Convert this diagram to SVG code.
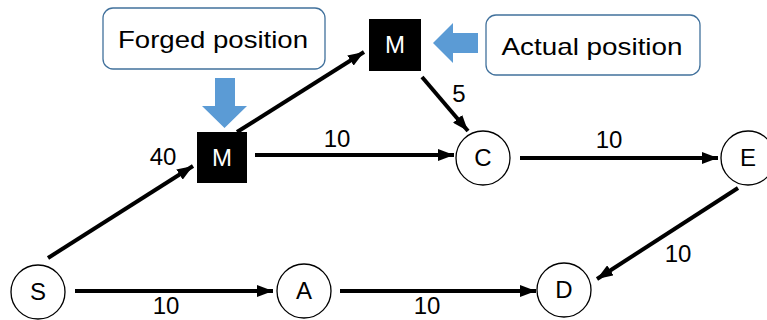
<svg xmlns="http://www.w3.org/2000/svg" width="767" height="320" viewBox="0 0 767 320">
<defs>
<marker id="ah" markerWidth="16" markerHeight="12" refX="16" refY="6" orient="auto" markerUnits="userSpaceOnUse">
<path d="M0,0 L16,6 L0,12 Z" fill="#000"/>
</marker>
<style>
.lbl{font-family:"Liberation Sans",Arial,sans-serif;font-size:24px;fill:#000}
.node{fill:#fff;stroke:#000;stroke-width:1.3}
.mbox{fill:#000}
.mtxt{font-family:"Liberation Sans",Arial,sans-serif;font-size:24px;fill:#fff;text-anchor:middle}
.ntxt{font-family:"Liberation Sans",Arial,sans-serif;font-size:24px;fill:#000;text-anchor:middle}
.call{fill:#fff;stroke:#41719c;stroke-width:1.3}
.ctxt{font-family:"Liberation Sans",Arial,sans-serif;font-size:24px;fill:#000;text-anchor:middle}
.blue{fill:#5b9bd5}
.edge{stroke:#000;stroke-width:4;fill:none;marker-end:url(#ah)}
</style>
</defs>
<rect width="767" height="320" fill="#fff"/>
<g id="forged-callout">
<rect class="call" x="103" y="8" width="222" height="61" rx="10"/>
<text class="ctxt" x="213" y="48" textLength="190" lengthAdjust="spacingAndGlyphs">Forged position</text>
<path class="blue" d="M215,78 H235 V106 H247 L224.5,128 L202,106 H215 Z"/>
</g>
<g id="actual-callout">
<rect class="call" x="486" y="15" width="214" height="60" rx="10"/>
<text class="ctxt" x="592" y="55" textLength="181" lengthAdjust="spacingAndGlyphs">Actual position</text>
<path class="blue" d="M478,33 V53 H453 V63 L433,43 L453,23 V33 Z"/>
</g>
<g id="connectors">
<line class="edge" x1="48" y1="258" x2="193" y2="166"/>
<line class="edge" x1="237" y1="132" x2="364" y2="52"/>
<line class="edge" x1="255" y1="155" x2="454" y2="155"/>
<line class="edge" x1="422" y1="77" x2="468" y2="131"/>
<line class="edge" x1="520" y1="158" x2="718" y2="158"/>
<line class="edge" x1="738" y1="188" x2="597" y2="279"/>
<line class="edge" x1="75" y1="291" x2="273" y2="291"/>
<line class="edge" x1="340" y1="291" x2="536" y2="291"/>
<text class="lbl" x="163" y="165" text-anchor="middle">40</text>
<text class="lbl" x="337" y="147" text-anchor="middle">10</text>
<text class="lbl" x="459" y="102" text-anchor="middle">5</text>
<text class="lbl" x="609" y="148" text-anchor="middle">10</text>
<text class="lbl" x="678" y="262" text-anchor="middle">10</text>
<text class="lbl" x="166" y="314" text-anchor="middle">10</text>
<text class="lbl" x="427" y="314" text-anchor="middle">10</text>
</g>
<g id="node-M-forged">
<rect class="mbox" x="197" y="132" width="50" height="51"/>
<text class="mtxt" x="222" y="166">M</text>
</g>
<g id="node-M-actual">
<rect class="mbox" x="369" y="19" width="52" height="52"/>
<text class="mtxt" x="395" y="53">M</text>
</g>
<g id="node-C">
<circle class="node" cx="483" cy="158" r="27"/>
<text class="ntxt" x="483" y="166">C</text>
</g>
<g id="node-E">
<circle class="node" cx="748" cy="158" r="27"/>
<text class="ntxt" x="748" y="166">E</text>
</g>
<g id="node-S">
<circle class="node" cx="38" cy="292" r="27"/>
<text class="ntxt" x="38" y="300">S</text>
</g>
<g id="node-A">
<circle class="node" cx="304" cy="291" r="27"/>
<text class="ntxt" x="304" y="299">A</text>
</g>
<g id="node-D">
<circle class="node" cx="564" cy="290" r="27"/>
<text class="ntxt" x="564" y="298">D</text>
</g>
</svg>
